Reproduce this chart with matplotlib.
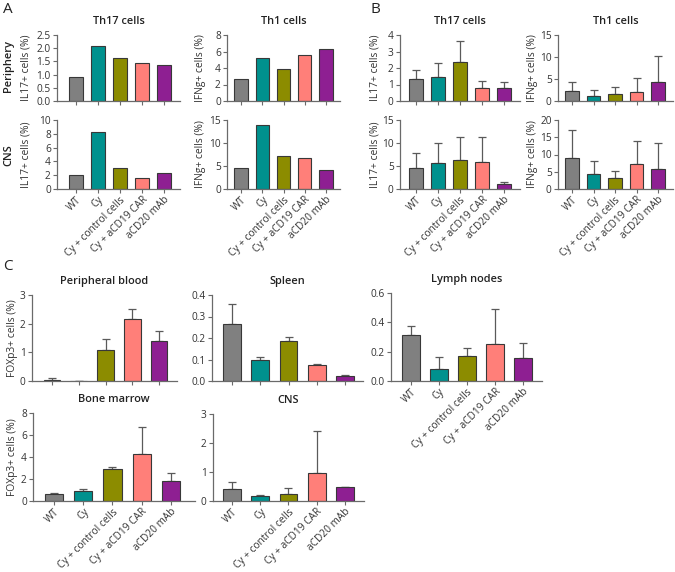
import numpy as np
import matplotlib
matplotlib.use("Agg")
import matplotlib.pyplot as plt

plt.rcParams['font.family'] = ['Open Sans', 'DejaVu Sans']

groups = ['WT', 'Cy', 'Cy + control cells', 'Cy + aCD19 CAR', 'aCD20 mAb']
colors = ['#808080', '#00918E', '#8C8C00', '#FF7F79', '#8E1F92']

# panel A (pooled, no error bars)
a_per_th17 = [0.91, 2.10, 1.61, 1.43, 1.35]
a_per_th1 = [2.72, 5.16, 3.90, 5.55, 6.30]
a_cns_th17 = [2.0, 8.2, 3.1, 1.6, 2.3]
a_cns_th1 = [4.6, 13.9, 7.1, 6.8, 4.2]

# panel B (mean, upper error)
b_per_th17 = [1.36, 1.45, 2.38, 0.77, 0.77]
b_per_th17_err = [0.53, 0.87, 1.28, 0.43, 0.39]
b_per_th1 = [2.3, 1.25, 1.6, 2.1, 4.3]
b_per_th1_err = [2.1, 1.25, 1.6, 3.1, 5.9]
b_cns_th17 = [4.5, 5.7, 6.2, 5.9, 1.0]
b_cns_th17_err = [3.4, 4.3, 5.0, 5.3, 0.6]
b_cns_th1 = [9.0, 4.4, 3.25, 7.2, 5.8]
b_cns_th1_err = [8.0, 3.7, 2.05, 6.7, 7.5]

# panel C (FOXp3+)
c_blood = [0.02, 0.0, 1.08, 2.15, 1.41]
c_blood_err = [0.10, 0.0, 0.37, 0.36, 0.33]
c_spleen = [0.264, 0.100, 0.188, 0.073, 0.022]
c_spleen_err = [0.094, 0.013, 0.015, 0.005, 0.008]
c_lymph = [0.311, 0.080, 0.172, 0.250, 0.156]
c_lymph_err = [0.067, 0.085, 0.052, 0.240, 0.105]
c_marrow = [0.65, 0.88, 2.90, 4.26, 1.85]
c_marrow_err = [0.05, 0.18, 0.16, 2.44, 0.68]
c_cns = [0.42, 0.16, 0.24, 0.96, 0.50]
c_cns_err = [0.24, 0.06, 0.22, 1.45, 0.0]

W, H = 675, 572
fig = plt.figure(figsize=(W / 100, H / 100), dpi=100)

SPINE = '#6a6a6a'
TXT = '#333333'


def make_ax(x0, c0, c1, x1, ytop, ybot, data, ylim, yticks, err=None,
            title=None, ylabel=None, lab_off=28, xlabels=False, ytickfmt=None,
            width=0.63):
    # axes box given in pixels, c0/c1 = pixel centres of first/last bar
    step = (c1 - c0) / 4.0
    ax = fig.add_axes([x0 / W, 1 - ybot / H, (x1 - x0) / W, (ybot - ytop) / H])
    pos = np.arange(5)
    ax.bar(pos, data, width=width, color=colors, edgecolor='#383838',
           linewidth=0.8, zorder=2)
    if err is not None:
        ax.errorbar(pos, data, yerr=[np.zeros(5), err], fmt='none',
                    ecolor='#5a5a5a', elinewidth=0.9, capsize=3.2,
                    capthick=0.9, zorder=1)
    ax.set_xlim(-(c0 - x0) / step, 4 + (x1 - c1) / step)
    ax.set_ylim(*ylim)
    ax.set_yticks(yticks)
    if ytickfmt:
        ax.set_yticklabels([ytickfmt.format(v) for v in yticks])
    ax.set_xticks(pos)
    if xlabels:
        ax.set_xticklabels(groups, rotation=45, ha='right',
                           rotation_mode='anchor', fontsize=6.1, color=TXT)
    else:
        ax.set_xticklabels([])
    for s in ['top', 'right']:
        ax.spines[s].set_visible(False)
    for s in ['left', 'bottom']:
        ax.spines[s].set_color(SPINE)
        ax.spines[s].set_linewidth(0.9)
    ax.tick_params(colors=SPINE, labelcolor=TXT, length=3, width=0.8,
                   labelsize=7.3, pad=1.5)
    ax.tick_params(axis='x', pad=1.0)
    ax.set_facecolor('none')
    if title:
        ax.set_title(title, fontsize=7.9, fontweight='semibold', color='#222222',
                     pad=8)
    if ylabel:
        ax.set_ylabel(ylabel, fontsize=7.4, color=TXT)
        ax.yaxis.label.set_va('center')
        ax.yaxis.set_label_coords(-lab_off / (x1 - x0), 0.5)
    return ax


# ---- panel A
make_ax(57, 76, 164, 180, 35, 101, a_per_th17, (0, 2.5), [0, 0.5, 1, 1.5, 2, 2.5],
        title='Th17 cells', ylabel='IL17+ cells (%)', lab_off=31, ytickfmt='{:.1f}')
make_ax(227, 241, 326, 340, 35, 101, a_per_th1, (0, 8), [0, 2, 4, 6, 8],
        title='Th1 cells', ylabel='IFNg+ cells (%)', lab_off=27)
make_ax(57, 76, 164, 180, 120, 189, a_cns_th17, (0, 10), [0, 2, 4, 6, 8, 10],
        ylabel='IL17+ cells (%)', lab_off=31, xlabels=True)
make_ax(227, 241, 326, 340, 120, 189, a_cns_th1, (0, 15), [0, 5, 10, 15],
        ylabel='IFNg+ cells (%)', lab_off=27, xlabels=True)

# ---- panel B
make_ax(400, 416, 504, 520, 35, 101, b_per_th17, (0, 4), [0, 1, 2, 3, 4],
        err=b_per_th17_err, title='Th17 cells', ylabel='IL17+ cells (%)', lab_off=25)
make_ax(558, 572, 658, 673, 35, 101, b_per_th1, (0, 15), [0, 5, 10, 15],
        err=b_per_th1_err, title='Th1 cells', ylabel='IFNg+ cells (%)', lab_off=26)
make_ax(400, 416, 504, 520, 120, 189, b_cns_th17, (0, 15), [0, 5, 10, 15],
        err=b_cns_th17_err, ylabel='IL17+ cells (%)', lab_off=25, xlabels=True)
make_ax(558, 572, 658, 673, 120, 189, b_cns_th1, (0, 20), [0, 5, 10, 15, 20],
        err=b_cns_th1_err, ylabel='IFNg+ cells (%)', lab_off=26, xlabels=True)

# ---- panel C
make_ax(32, 52, 159, 177, 295, 381, c_blood, (0, 3), [0, 1, 2, 3],
        err=c_blood_err, title='Peripheral blood', ylabel='FOXp3+ cells (%)',
        lab_off=19)
make_ax(212, 232, 345, 363, 295, 381, c_spleen, (0, 0.4), [0, 0.1, 0.2, 0.3, 0.4],
        err=c_spleen_err, title='Spleen', ytickfmt='{:.1f}')
make_ax(391, 411, 523, 542, 293, 381, c_lymph, (0, 0.6), [0, 0.2, 0.4, 0.6],
        err=c_lymph_err, title='Lymph nodes', ytickfmt='{:.1f}', xlabels=True)
make_ax(33, 54, 171, 195, 413, 501, c_marrow, (0, 8), [0, 2, 4, 6, 8],
        err=c_marrow_err, title='Bone marrow', ylabel='FOXp3+ cells (%)',
        lab_off=20, xlabels=True)
make_ax(213, 232, 345, 364, 414, 501, c_cns, (0, 3), [0, 1, 2, 3],
        err=c_cns_err, title='CNS', xlabels=True)

# row labels and panel letters
fig.text(9 / W, 1 - 66 / H, 'Periphery', rotation=90, ha='center', va='center',
         fontsize=8.0, fontweight='semibold', color='#222222')
fig.text(9 / W, 1 - 155 / H, 'CNS', rotation=90, ha='center', va='center',
         fontsize=8.0, fontweight='semibold', color='#222222')
for letter, x, y in [('A', 3, 2), ('B', 371, 2), ('C', 3, 259)]:
    fig.text(x / W, 1 - y / H, letter, ha='left', va='top', fontsize=11,
             color='#222222')

fig.savefig('out.png', dpi=100)
